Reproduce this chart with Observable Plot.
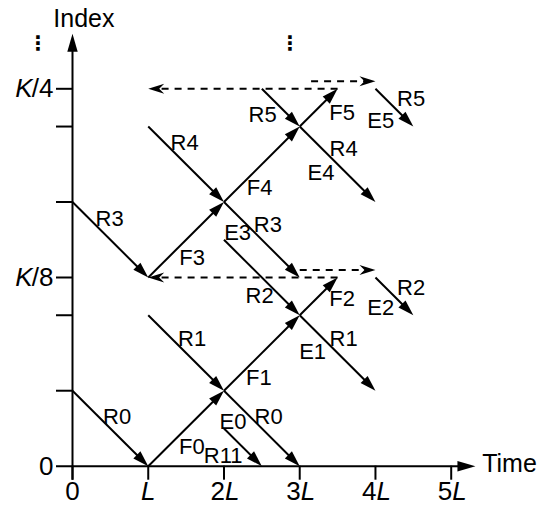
<!DOCTYPE html>
<html><head><meta charset="utf-8">
<script src="https://cdn.jsdelivr.net/npm/d3@7"></script>
<script src="https://cdn.jsdelivr.net/npm/@observablehq/plot@0.6"></script>
<style>html,body{margin:0;padding:0;background:#fff;} #chart svg{display:block;}</style>
</head><body><div id="chart"></div>
<script>
// ---- data (time in units of L, index in units where K/8 = 2.5) ----
const xTicks = [0, 1, 2, 3, 4, 5];
const xTickCoef = ["0", "", "2", "3", "4", "5"];
const xTickUnit = ["", "L", "L", "L", "L", "L"];
const yTicks = [1, 2, 2.5, 3.5, 4.5, 5];
const yLabelAt = [0, 2.5, 5];
const yLabelK = ["", "K", "K"];
const yLabelRest = ["0", "/8", "/4"];

// solid arrows: [t1, i1, t2, i2]
const solidPaths = [
  [0, 1, 1, 0], [1, 0, 2, 1], [2, 1, 3, 2], [3, 2, 3.5, 2.5],
  [1, 2, 2, 1], [2, 1, 3, 0], [2, 0.5, 2.5, 0],
  [0, 3.5, 1, 2.5], [1, 2.5, 2, 3.5], [2, 3.5, 3, 4.5], [3, 4.5, 3.5, 5],
  [1, 4.5, 2, 3.5], [2, 3.5, 3, 2.5], [2, 3, 3, 2], [3, 2, 4, 1], [4, 2.5, 4.5, 2],
  [2.5, 5, 3, 4.5], [3, 4.5, 4, 3.5], [4, 5, 4.5, 4.5]
];
// dashed arrows
const dashedPaths = [
  [3.5, 5, 1, 5], [3.15, 5.1, 4, 5.1],
  [3.5, 2.5, 1, 2.5], [3, 2.6, 4, 2.6]
];

const labelText = ["R0","F0","R11","E0","R0","R1","F1","E1","R1","R2","F2","E2","R2",
                   "R3","F3","E3","R3","R4","F4","R4","E4","R5","F5","E5","R5"];
const labelT = [0.59,1.575,1.99,2.12,2.59,1.58,2.46,3.17,3.58,2.47,3.56,4.07,4.47,
                0.49,1.58,2.18,2.58,1.48,2.47,3.58,3.28,2.51,3.56,4.07,4.47];
const labelI = [0.65,0.25,0.135,0.59,0.65,1.68,1.17,1.51,1.68,2.26,2.21,2.10,2.36,
                3.28,2.76,3.09,3.20,4.28,3.69,4.20,3.88,4.66,4.68,4.58,4.87];

const ellipsisT = [-0.46, 2.87];

// ---- geometry helpers ----
const W = 547, H = 510;
const mL = 72, mR = 96.3, mT = 88.3, mB = 44.3;
const kx = (W - mL - mR) / 5, ky = (H - mT - mB) / 5;
const ang = d => Math.atan2((d[2] - d[0]) * kx, (d[3] - d[1]) * ky) * 180 / Math.PI;
const shorten = (d, px) => {
  const dx = (d[2] - d[0]) * kx, dy = (d[3] - d[1]) * ky, len = Math.hypot(dx, dy);
  return [d[2] - dx / len * px / kx, d[3] - dy / len * px / ky];
};
const headSolid = {draw(c) { c.moveTo(0, 0); c.lineTo(-5, 16); c.lineTo(5, 16); c.closePath(); }};
const headNotch = {draw(c) { c.moveTo(0, 0); c.lineTo(-5, 16); c.lineTo(0, 11); c.lineTo(5, 16); c.closePath(); }};
const headAxis = {draw(c) { c.moveTo(0, 0); c.lineTo(-5.2, 18); c.lineTo(5.2, 18); c.closePath(); }};
const tipX = 5.32, tipY = 5.73;
const axisHeads = [[tipX - 1, 0, tipX, 0], [0, tipY - 1, 0, tipY]];

const font = "'Liberation Sans', Arial, Helvetica, sans-serif";

const chart = Plot.plot({
  width: W, height: H,
  marginLeft: mL, marginRight: mR, marginTop: mT, marginBottom: mB,
  x: {domain: [0, 5], axis: null},
  y: {domain: [0, 5], axis: null},
  style: {fontFamily: font, background: "white", overflow: "visible", color: "black"},
  marks: [
    // axes
    Plot.ruleY([0], {x1: -16 / kx, x2: tipX - 10 / kx, stroke: "black", strokeWidth: 2}),
    Plot.ruleX([0], {y1: -14 / ky, y2: tipY - 10 / ky, stroke: "black", strokeWidth: 2}),
    Plot.ruleX(xTicks, {y1: 0, y2: -14 / ky, stroke: "black", strokeWidth: 2}),
    Plot.ruleY(yTicks, {x1: -16 / kx, x2: 0, stroke: "black", strokeWidth: 2}),
    Plot.dot(axisHeads, {x: d => d[2], y: d => d[3], rotate: ang, symbol: headAxis, fill: "black", stroke: "none"}),
    // arrows
    Plot.link(solidPaths, {x1: d => d[0], y1: d => d[1], x2: d => shorten(d, 6)[0], y2: d => shorten(d, 6)[1],
      stroke: "black", strokeWidth: 2}),
    Plot.dot(solidPaths, {x: d => d[2], y: d => d[3], rotate: ang, symbol: headSolid, fill: "black", stroke: "none"}),
    Plot.link(dashedPaths, {x1: d => d[0], y1: d => d[1], x2: d => shorten(d, 9)[0], y2: d => shorten(d, 9)[1],
      stroke: "black", strokeWidth: 2, strokeDasharray: "7,6"}),
    Plot.dot(dashedPaths, {x: d => d[2], y: d => d[3], rotate: ang, symbol: headNotch, fill: "black", stroke: "none"}),
    // labels
    Plot.text(labelText, {x: (d, i) => labelT[i], y: (d, i) => labelI[i], text: d => d, fontSize: 22, fill: "black"}),
    // x tick labels
    Plot.text(xTicks, {filter: (d, i) => xTickCoef[i] !== "" && xTickUnit[i] === "", x: d => d, y: 0, dy: 25,
      text: (d, i) => xTickCoef[i], fontSize: 26, fill: "black"}),
    Plot.text(xTicks, {filter: (d, i) => xTickCoef[i] === "" && xTickUnit[i] !== "", x: d => d, y: 0, dy: 25,
      text: (d, i) => xTickUnit[i], fontSize: 26, fontStyle: "italic", fill: "black"}),
    Plot.text(xTicks, {filter: (d, i) => xTickCoef[i] !== "" && xTickUnit[i] !== "", x: d => d, y: 0, dy: 25, dx: 1,
      textAnchor: "end", text: (d, i) => xTickCoef[i], fontSize: 26, fill: "black"}),
    Plot.text(xTicks, {filter: (d, i) => xTickCoef[i] !== "" && xTickUnit[i] !== "", x: d => d, y: 0, dy: 25, dx: 1,
      textAnchor: "start", text: (d, i) => xTickUnit[i], fontSize: 26, fontStyle: "italic", fill: "black"}),
    // y tick labels
    Plot.text(yLabelAt, {x: 0, y: d => d, dx: -19, textAnchor: "end", text: (d, i) => yLabelRest[i], fontSize: 26, fill: "black"}),
    Plot.text(yLabelAt, {filter: (d, i) => yLabelK[i] !== "", x: 0, y: d => d, dx: -40, textAnchor: "end",
      text: (d, i) => yLabelK[i], fontSize: 26, fontStyle: "italic", fill: "black"}),
    // axis titles
    Plot.text(["Index"], {x: 0.15, y: 5.92, text: d => d, fontSize: 25, fill: "black"}),
    Plot.text(["Time"], {x: 5.77, y: 0.03, text: d => d, fontSize: 25, fill: "black"}),
    // continuation marks
    Plot.text(ellipsisT, {x: d => d, y: 5.6, text: () => "⋮", fontSize: 20, fill: "black",
      fontFamily: "'DejaVu Sans', sans-serif", fontWeight: "bold"})
  ]
});
document.getElementById("chart").appendChild(chart);
</script>
</body></html>
